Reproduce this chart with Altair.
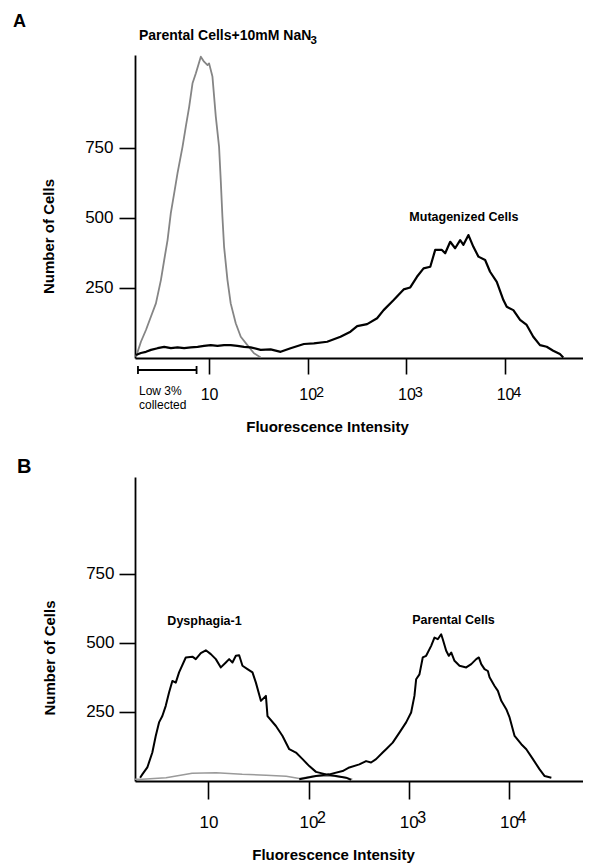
import altair as alt
import pandas as pd

# ---------------- Panel A ----------------
# x = log10(fluorescence intensity), y = number of cells
a_nan3_log = [0.259, 0.309, 0.360, 0.411, 0.461, 0.512, 0.545, 0.579, 0.612, 0.646,
              0.680, 0.731, 0.764, 0.798, 0.832, 0.866, 0.916, 0.949, 0.984, 1.000,
              1.034, 1.068, 1.101, 1.118, 1.135, 1.152, 1.186, 1.219, 1.270, 1.321,
              1.388, 1.455, 1.523]
a_nan3_cells = [4, 58, 100, 148, 195, 279, 350, 421, 517, 588,
                660, 755, 826, 897, 981, 1017, 1076, 1058, 1046, 1052,
                1005, 862, 755, 636, 505, 397, 279, 195, 124, 76,
                46, 17, 2]

a_mut_log = [0.259, 0.309, 0.360, 0.411, 0.478, 0.545, 0.613, 0.680, 0.747, 0.815,
             0.883, 0.949, 1.017, 1.085, 1.152, 1.219, 1.287, 1.354, 1.422, 1.523,
             1.624, 1.725, 1.826, 1.961, 2.062, 2.197, 2.332, 2.433, 2.501, 2.602,
             2.703, 2.769, 2.871, 2.972, 3.039, 3.107, 3.174, 3.242, 3.292, 3.360,
             3.393, 3.444, 3.494, 3.545, 3.578, 3.629, 3.679, 3.730, 3.798, 3.848,
             3.916, 3.983, 4.017, 4.084, 4.152, 4.219, 4.286, 4.354, 4.422, 4.488,
             4.556, 4.590]
a_mut_cells = [11, 18, 22, 29, 35, 40, 35, 38, 35, 38,
               40, 43, 46, 43, 46, 46, 43, 40, 38, 29,
               31, 22, 35, 50, 52, 58, 76, 94, 114, 121,
               142, 171, 207, 245, 252, 290, 320, 326, 386, 386,
               374, 415, 392, 421, 404, 439, 397, 362, 350, 308,
               272, 207, 183, 171, 136, 118, 76, 46, 40, 26,
               14, 2]

# ---------------- Panel B ----------------
b_dys_log = [0.318, 0.340, 0.390, 0.440, 0.474, 0.507, 0.540, 0.574, 0.607, 0.640,
             0.674, 0.707, 0.774, 0.840, 0.874, 0.924, 0.974, 1.024, 1.074, 1.124,
             1.174, 1.207, 1.240, 1.274, 1.307, 1.340, 1.390, 1.440, 1.474, 1.524,
             1.574, 1.590, 1.674, 1.740, 1.807, 1.874, 1.940, 2.007, 2.074, 2.174,
             2.274, 2.374, 2.424]
b_dys_cells = [12, 24, 49, 103, 163, 212, 235, 272, 320, 362,
               356, 393, 447, 450, 441, 463, 473, 459, 441, 411,
               429, 441, 429, 453, 455, 417, 405, 393, 356, 290,
               308, 235, 199, 163, 115, 103, 79, 54, 33, 24,
               18, 12, 4]

b_par_log = [1.907, 2.074, 2.207, 2.340, 2.407, 2.507, 2.574, 2.624, 2.674, 2.740,
             2.774, 2.840, 2.907, 2.974, 3.024, 3.057, 3.074, 3.107, 3.140, 3.174,
             3.224, 3.257, 3.290, 3.324, 3.340, 3.374, 3.400, 3.424, 3.457, 3.507,
             3.574, 3.624, 3.674, 3.700, 3.724, 3.757, 3.790, 3.807, 3.857, 3.890,
             3.924, 3.974, 4.007, 4.057, 4.124, 4.174, 4.240, 4.307, 4.357, 4.424]
b_par_cells = [6, 18, 24, 36, 49, 60, 72, 67, 79, 103,
               115, 139, 175, 212, 248, 308, 368, 386, 447, 453,
               489, 519, 513, 531, 513, 471, 453, 465, 435, 417,
               411, 423, 441, 447, 423, 405, 398, 375, 344, 326,
               290, 260, 230, 163, 133, 115, 79, 42, 18, 12]

b_ctrl_log = [0.267, 0.337, 0.577, 0.837, 1.077, 1.337, 1.577, 1.777, 1.907, 2.037,
              2.237, 2.377, 2.437]
b_ctrl_cells = [6, 6, 12, 28, 30, 24, 21, 17, 9, 17, 18, 12, 6]

# ---------------- axes / labels ----------------
x_ticks = [1, 2, 3, 4]
exp_ticks = [2, 3, 4]
exp_labels = ["2", "3", "4"]
y_ticks = [250, 500, 750]

a_labels = ["Mutagenized Cells"]
a_label_x = [3.03]
a_label_y = [505]
a_title = "Parental Cells+10mM NaN"
a_title_sub = "3"
a_title_x, a_title_y = 0.289, 1136
a_sub_x, a_sub_y = 2.028, 1121
b_labels = ["Dysphagia-1", "Parental Cells"]
b_label_x = [0.59, 3.034]
b_label_y = [580, 583]

gate_lo, gate_hi = 0.279, 0.873
gate_text = "Low 3%\ncollected"

FONT = "Liberation Sans"
# base "10" of the tick labels; trailing no-break spaces leave room for the exponent
X_LABEL_EXPR = "datum.value > 1 ? '10\u00a0\u00a0' : '10'"


def make_axes(xax, yax):
    x_axis = alt.Axis(
        values=x_ticks, labelExpr=X_LABEL_EXPR, title="Fluorescence Intensity",
        grid=False, tickSize=xax["tick"], tickWidth=1.6, tickColor="black",
        domainColor="black", domainWidth=1.8,
        labelFont=FONT, labelFontSize=xax["fs"], labelColor="black",
        labelFlush=False, labelOverlap=False, labelPadding=xax["pad"],
        titleFont=FONT, titleFontSize=15, titleFontWeight="bold",
        titleColor="black", titleX=xax["tx"], titleY=xax["ty"],
        titleBaseline="alphabetic", titleAlign="center")
    y_axis = alt.Axis(
        values=y_ticks, title="Number of Cells", grid=False,
        tickSize=16, tickWidth=1.6, tickColor="black",
        domainColor="black", domainWidth=1.8,
        labelFont=FONT, labelFontSize=17, labelColor="black",
        labelPadding=yax["pad"], labelFlush=False,
        titleFont=FONT, titleFontSize=15, titleFontWeight="bold",
        titleColor="black", titleX=yax["tx"], titleY=yax["ty"],
        titleAngle=270, titleBaseline="middle", titleAlign="center")
    return x_axis, y_axis


def panel(lines, xdom, ydom, W, H, letter, letter_pos, letter_size,
          lab, xax, exp_cfg, yax, extra=None):
    xs = alt.Scale(domain=xdom, nice=False, zero=False)
    ys = alt.Scale(domain=ydom, nice=False, zero=False)
    x_axis, y_axis = make_axes(xax, yax)
    X = lambda: alt.X("x:Q", scale=xs, axis=x_axis)
    Y = lambda: alt.Y("y:Q", scale=ys, axis=y_axis)

    layers = []
    for xv, yv, color, sw in lines:
        df = pd.DataFrame({"x": xv, "y": yv})
        layers.append(alt.Chart(df).mark_line(color=color, strokeWidth=sw,
                                              strokeJoin="round").encode(x=X(), y=Y()))

    # exponents of the x tick labels
    exp_df = pd.DataFrame({"x": exp_ticks, "t": exp_labels})
    layers.append(alt.Chart(exp_df).mark_text(
        align="left", baseline="alphabetic", font=FONT, fontSize=exp_cfg["fs"],
        color="black", dx=exp_cfg["dx"]).encode(
        x=X(), y=alt.value(H + exp_cfg["dy"]), text="t:N"))

    # curve labels
    lab_df = pd.DataFrame({"x": lab[1], "y": lab[2], "t": lab[0]})
    layers.append(alt.Chart(lab_df).mark_text(
        align="left", baseline="middle", font=FONT, fontSize=12.5,
        fontWeight="bold", color="black").encode(x=X(), y=Y(), text="t:N"))

    # panel letter
    layers.append(alt.Chart(pd.DataFrame({"t": [letter]})).mark_text(
        align="left", baseline="alphabetic", font=FONT, fontSize=letter_size,
        fontWeight="bold", color="black").encode(
        x=alt.value(letter_pos[0]), y=alt.value(letter_pos[1]), text="t:N"))

    if extra:
        layers.extend(extra(X, Y))

    return alt.layer(*layers).properties(width=W, height=H)


def a_extra(X, Y):
    bar = alt.Chart(pd.DataFrame({"x": [gate_lo], "x2": [gate_hi]})).mark_rule(
        color="black", strokeWidth=1.8).encode(x=X(), x2="x2:Q", y=alt.value(315))
    caps = alt.Chart(pd.DataFrame({"x": [gate_lo, gate_hi]})).mark_rule(
        color="black", strokeWidth=1.8).encode(
        x=X(), y=alt.value(311), y2=alt.value(319))
    txt = alt.Chart(pd.DataFrame({"x": [gate_lo], "t": [gate_text]})).mark_text(
        align="left", baseline="alphabetic", font=FONT, fontSize=12,
        color="black", lineBreak="\n", lineHeight=14, dx=1).encode(
        x=X(), y=alt.value(339.5), text="t:N")
    title = alt.Chart(pd.DataFrame({"x": [a_title_x], "y": [a_title_y],
                                    "t": [a_title]})).mark_text(
        align="left", baseline="alphabetic", font=FONT, fontSize=14,
        fontWeight="bold", color="black").encode(x=X(), y=Y(), text="t:N")
    sub = alt.Chart(pd.DataFrame({"x": [a_sub_x], "y": [a_sub_y],
                                  "t": [a_title_sub]})).mark_text(
        align="left", baseline="alphabetic", font=FONT, fontSize=11.5,
        fontWeight="bold", color="black").encode(x=X(), y=Y(), text="t:N")
    return [bar, caps, txt, title, sub]


panel_a = panel(
    lines=[(a_nan3_log, a_nan3_cells, "#858585", 1.8),
           (a_mut_log, a_mut_cells, "black", 2.2)],
    xdom=[0.249, 4.79], ydom=[0, 1082], W=448, H=303,
    letter="A", letter_pos=(-122, -28), letter_size=18,
    lab=(a_labels, a_label_x, a_label_y),
    xax={"tick": 16, "fs": 16, "pad": 12, "tx": 192, "ty": 73.7},
    exp_cfg={"fs": 14.5, "dx": 8.3, "dy": 38.7},
    yax={"pad": 6, "tx": -87, "ty": 181},
    extra=a_extra)

panel_b = panel(
    lines=[(b_ctrl_log, b_ctrl_cells, "#9a9a9a", 1.5),
           (b_dys_log, b_dys_cells, "black", 2.0),
           (b_par_log, b_par_cells, "black", 2.0)],
    xdom=[0.267, 4.74], ydom=[0, 1100], W=448, H=304,
    letter="B", letter_pos=(-118, -4), letter_size=20,
    lab=(b_labels, b_label_x, b_label_y),
    xax={"tick": 18, "fs": 17, "pad": 15, "tx": 198, "ty": 78.3},
    exp_cfg={"fs": 16, "dx": 8.5, "dy": 42},
    yax={"pad": 5, "tx": -85.5, "ty": 180.5})

chart = alt.vconcat(panel_a, panel_b, spacing=119, bounds="flush").configure_view(
    stroke=None).properties(padding={"left": 5, "top": 5, "right": 0, "bottom": 0},
                            background="white")

chart.save("out.html", embed_options={"renderer": "svg", "actions": False})
